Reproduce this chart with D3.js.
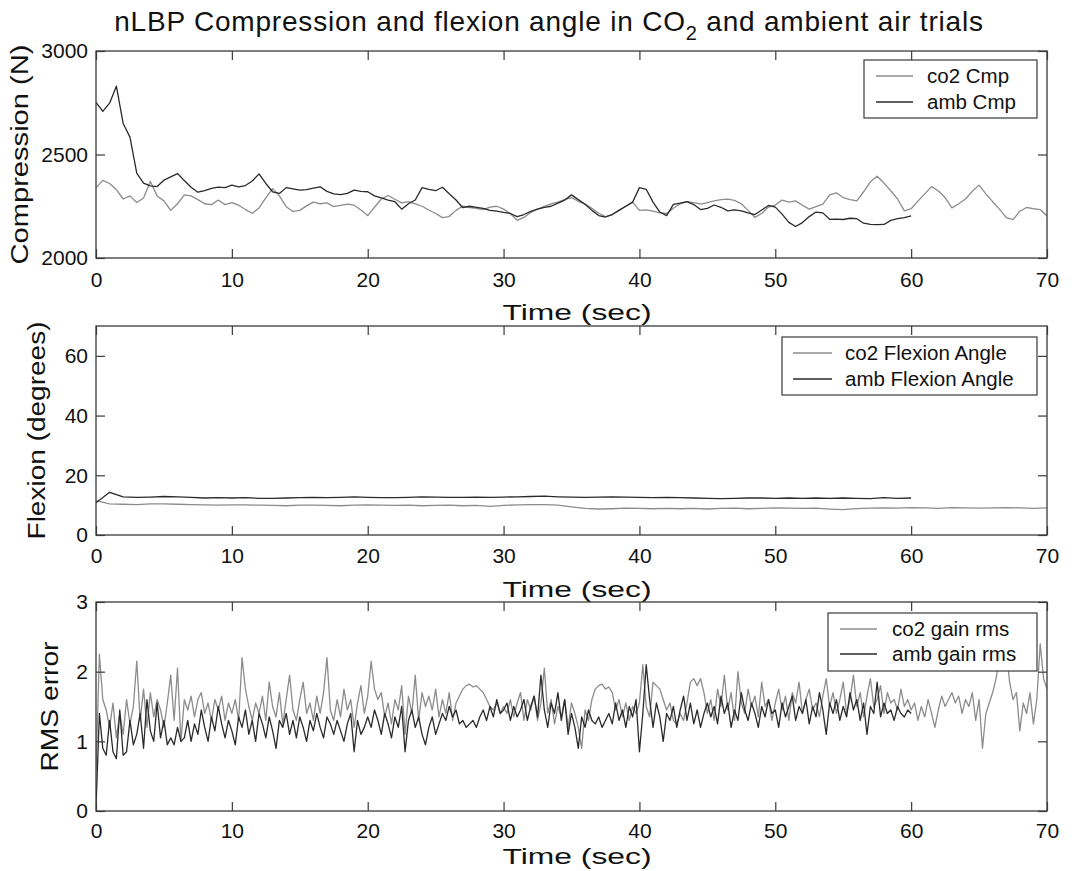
<!DOCTYPE html>
<html><head><meta charset="utf-8">
<script src="https://cdn.jsdelivr.net/npm/d3@7"></script>
<style>
body{margin:0;background:#fff}
text{font-family:"Liberation Sans",Arial,Helvetica,sans-serif;fill:#111}
</style>
</head><body>
<svg id="chart" width="1081" height="871"></svg>
<script>
// ---------------- data ----------------
const titleMain = "nLBP Compression and flexion angle in CO";
const titleSub = "2";
const titleEnd = " and ambient air trials";
const xTicks = [0, 10, 20, 30, 40, 50, 60, 70];
const cmpTicks = [2000, 2500, 3000];
const flexTicks = [0, 20, 40, 60];
const rmsTicks = [0, 1, 2, 3];

const cmpStep = 0.5;   // seconds between samples
const co2Cmp = [
2340,2375,2360,2330,2285,2300,2268,2290,2370,2300,
2276,2230,2262,2305,2300,2282,2262,2258,2280,2258,
2268,2255,2234,2216,2242,2290,2335,2300,2248,2225,
2230,2252,2270,2262,2266,2248,2254,2260,2255,2232,
2205,2245,2285,2302,2284,2266,2272,2262,2250,2232,
2215,2195,2200,2230,2251,2244,2240,2234,2246,2250,
2236,2214,2182,2196,2220,2236,2250,2262,2270,2282,
2292,2274,2260,2240,2216,2200,2210,2232,2250,2270,
2230,2232,2226,2218,2215,2240,2262,2272,2268,2260,
2268,2276,2282,2284,2278,2262,2230,2196,2215,2246,
2256,2280,2270,2276,2255,2236,2248,2260,2305,2315,
2292,2282,2276,2320,2368,2395,2362,2325,2285,2228,
2238,2275,2310,2345,2325,2292,2242,2262,2285,2322,
2352,2310,2272,2236,2195,2185,2226,2244,2238,2234,
2203];
const ambCmp = [
2752,2708,2748,2830,2650,2584,2410,2362,2348,2345,
2376,2392,2408,2374,2342,2318,2326,2336,2342,2340,
2352,2344,2350,2372,2406,2360,2320,2312,2340,2334,
2328,2330,2338,2344,2322,2310,2306,2312,2328,2322,
2320,2300,2290,2280,2272,2236,2262,2280,2340,2332,
2325,2342,2310,2280,2243,2250,2245,2240,2230,2226,
2220,2215,2200,2210,2225,2236,2245,2250,2265,2280,
2305,2282,2260,2230,2205,2198,2210,2230,2250,2270,
2340,2332,2270,2222,2205,2259,2265,2272,2258,2234,
2240,2256,2245,2228,2232,2228,2218,2210,2232,2254,
2246,2212,2172,2152,2171,2200,2222,2218,2187,2188,
2186,2192,2190,2168,2162,2161,2162,2182,2190,2195,
2203];

const flexStep = 1;
const co2Flex = [
11.5,10.4,10.3,10.2,10.4,10.4,10.3,10.2,10.1,10.0,
10.1,10.1,10.0,9.9,9.8,10.0,10.0,9.9,9.8,10.0,
10.1,10.0,9.9,10.0,9.8,9.9,10.0,9.8,9.9,9.6,
9.9,10.1,10.2,10.2,10.0,9.4,8.9,8.7,8.8,9.0,
8.9,8.8,8.9,8.8,8.9,8.7,8.9,9.0,8.8,8.9,
9.1,9.0,8.9,9.0,8.7,8.5,8.8,9.0,9.1,9.0,
9.2,9.1,8.9,9.2,9.1,9.0,9.1,9.2,9.1,8.9,
9.1];
const ambFlex = [
10.8,14.3,12.8,12.6,12.7,12.9,12.8,12.6,12.4,12.5,
12.4,12.5,12.3,12.3,12.4,12.5,12.6,12.5,12.6,12.8,
12.6,12.5,12.5,12.6,12.8,12.7,12.6,12.6,12.7,12.6,
12.7,12.8,12.9,13.0,12.8,12.7,12.6,12.7,12.8,12.7,
12.6,12.5,12.6,12.5,12.4,12.3,12.2,12.3,12.4,12.4,
12.3,12.4,12.3,12.4,12.3,12.4,12.3,12.2,12.5,12.3,
12.4];

const rmsStep = 0.25;
const co2Rms = [
0.6,2.25,1.6,1.45,1.2,1.55,1.05,1.4,1.1,1.6,1.25,1.5,2.15,1.3,1.75,1.2,1.7,1.35,1.6,1.45,
1.2,1.55,1.95,1.3,2.05,1.0,1.6,1.45,1.65,1.35,1.6,1.7,1.4,1.55,1.3,1.6,1.45,1.65,1.3,1.55,
1.4,1.6,1.3,2.2,1.75,1.5,1.3,1.55,1.4,1.65,1.3,1.85,1.5,1.35,1.7,1.25,1.6,1.95,1.45,1.3,
1.6,1.85,1.4,1.55,1.3,1.65,1.4,1.7,2.2,1.45,1.3,1.6,1.35,1.75,1.45,1.6,1.2,1.55,1.8,1.4,
1.65,2.15,1.75,1.6,1.7,1.35,1.55,1.25,1.6,1.45,1.8,1.1,1.65,1.4,1.95,1.3,1.7,1.5,1.65,1.45,
1.75,1.35,1.6,1.4,1.7,1.3,1.55,1.65,1.75,1.8,1.82,1.78,1.8,1.75,1.7,1.6,1.5,1.45,1.55,1.4,
1.5,1.4,1.6,1.35,1.55,1.7,1.3,1.6,1.45,1.65,1.3,1.55,2.05,1.4,1.6,1.25,1.5,1.35,1.6,1.2,
1.55,1.4,1.2,0.9,1.45,1.3,1.6,1.75,1.8,1.82,1.75,1.78,1.7,1.45,1.6,1.35,1.55,1.3,1.5,1.4,
1.55,2.1,1.5,1.35,1.85,1.8,1.75,1.6,1.45,1.55,1.3,1.25,1.4,1.3,1.55,1.85,1.9,1.8,1.9,1.7,
1.4,1.6,1.3,1.75,1.5,1.95,1.45,1.7,1.3,2.0,1.55,1.4,1.75,1.5,1.65,1.35,1.85,1.5,1.6,1.3,
1.55,1.75,1.45,1.65,1.3,1.7,1.55,1.85,1.4,1.6,1.75,1.45,1.55,1.35,1.65,1.9,1.5,1.7,1.4,1.6,
1.85,1.4,1.6,1.95,1.5,1.7,1.35,1.65,1.9,1.5,1.6,1.8,1.4,1.7,1.55,1.6,1.45,1.75,1.5,1.6,
1.45,1.55,1.3,1.5,1.35,1.6,1.4,1.2,1.45,1.65,1.5,1.6,1.7,1.55,1.65,1.4,1.6,1.5,1.7,1.3,
1.6,0.9,1.4,1.55,1.7,1.9,2.2,2.05,2.3,1.85,1.6,1.7,1.15,1.55,1.4,1.7,1.25,1.6,2.4,1.9,
1.75];
const ambRms = [
0.05,1.4,0.9,0.8,1.3,0.85,0.75,1.45,0.8,0.85,1.3,0.95,1.1,1.4,0.9,1.6,1.15,1.0,1.55,1.05,
1.3,0.95,1.05,0.95,1.2,1.0,1.05,1.3,1.0,1.25,1.1,1.45,1.2,1.0,1.35,1.15,1.5,1.25,1.05,1.3,
1.15,0.95,1.35,1.2,1.45,1.1,1.3,1.0,1.4,1.25,1.05,1.35,1.15,0.9,1.3,1.2,1.4,1.1,1.3,1.05,
1.35,1.2,1.0,1.3,1.15,1.4,1.2,1.05,1.35,1.25,1.1,1.3,1.15,1.0,1.25,1.4,0.85,1.3,1.1,1.2,
1.35,1.2,1.45,1.3,1.1,1.4,1.25,1.05,1.35,1.2,1.5,0.85,1.3,1.45,1.2,1.35,1.1,0.95,1.2,1.35,
1.1,1.25,1.4,1.3,1.5,1.35,1.45,1.25,1.3,1.2,1.25,1.3,1.2,1.35,1.45,1.3,1.5,1.35,1.6,1.4,
1.45,1.55,1.3,1.5,1.35,1.45,1.6,1.3,1.5,1.65,1.35,1.95,1.45,1.2,1.55,1.4,1.7,1.3,1.6,1.1,
1.4,1.2,0.9,1.35,1.2,1.45,1.3,1.25,1.35,1.2,1.3,1.4,1.25,1.55,1.3,1.45,1.2,1.5,1.35,1.6,
0.85,1.4,2.1,1.6,1.2,1.55,1.35,1.0,1.4,1.3,1.5,1.2,1.45,1.65,1.3,1.55,1.25,1.45,1.2,1.4,
1.55,1.35,1.5,1.25,1.65,1.4,1.55,1.2,1.45,1.3,1.7,1.45,1.3,1.55,1.4,1.2,1.5,1.35,1.6,1.4,
1.45,1.2,1.55,1.35,1.5,1.65,1.3,1.5,1.4,1.6,1.25,1.5,1.35,1.7,1.45,1.1,1.55,1.4,1.6,1.3,
1.5,1.35,1.7,1.45,1.6,1.3,1.55,1.1,1.5,1.4,1.85,1.35,1.55,1.4,1.45,1.3,1.5,1.4,1.35,1.45,
1.4];

// ---------------- drawing ----------------
const svg = d3.select("#chart");
svg.append("rect").attr("width",1081).attr("height",871).attr("fill","#fff");

const X0 = 96, X1 = 1047;
const co2Color = "#8c8c8c", ambColor = "#2a2a2a", axisColor = "#3a3a3a";

const panels = [
  {top:51, bottom:258, domain:[2000,3000], ticks:cmpTicks, step:cmpStep,
   series:[{v:co2Cmp,c:co2Color,name:"co2 Cmp"},{v:ambCmp,c:ambColor,name:"amb Cmp"}],
   ylabel:"Compression (N)", ylx:28, yll:220, xlabY:320, pad:14,
   legend:{x:864,y:60,w:173,h:58,lx0:876,lx1:913,tx:927,r0:76,r1:102}},
  {top:326, bottom:535, domain:[0,70], ticks:flexTicks, step:flexStep,
   series:[{v:co2Flex,c:co2Color,name:"co2 Flexion Angle"},{v:ambFlex,c:ambColor,name:"amb Flexion Angle"}],
   ylabel:"Flexion (degrees)", ylx:45, yll:218, xlabY:597, pad:13,
   legend:{x:782,y:337,w:255,h:58,lx0:793,lx1:832,tx:845,r0:353,r1:379}},
  {top:602, bottom:811, domain:[0,3], ticks:rmsTicks, step:rmsStep,
   series:[{v:co2Rms,c:co2Color,name:"co2 gain rms"},{v:ambRms,c:ambColor,name:"amb gain rms"}],
   ylabel:"RMS error", ylx:58, yll:130, xlabY:864, pad:12,
   legend:{x:828,y:613,w:209,h:58,lx0:840,lx1:877,tx:892,r0:629,r1:654}}
];

const x = d3.scaleLinear().domain([0,70]).range([X0,X1]);
const fmt = d => String(d);

panels.forEach((p,i) => {
  const y = d3.scaleLinear().domain(p.domain).range([p.bottom,p.top]);
  const g = svg.append("g");
  const clipId = "clip"+i;
  svg.append("clipPath").attr("id",clipId).append("rect")
    .attr("x",X0).attr("y",p.top).attr("width",X1-X0).attr("height",p.bottom-p.top);

  // data lines
  p.series.forEach(s => {
    const line = d3.line().x((d,k)=>x(k*p.step)).y(d=>y(d));
    g.append("path").datum(s.v).attr("d",line).attr("fill","none")
      .attr("stroke",s.c).attr("stroke-width",1.3).attr("stroke-linejoin","round")
      .attr("clip-path",`url(#${clipId})`);
  });

  // axes
  const fs = 21;
  const bottomAx = g.append("g").attr("transform",`translate(0,${p.bottom})`)
    .call(d3.axisBottom(x).tickValues(xTicks).tickFormat(fmt).tickSizeInner(-9).tickSizeOuter(0).tickPadding(p.pad));
  const topAx = g.append("g").attr("transform",`translate(0,${p.top})`)
    .call(d3.axisTop(x).tickValues(xTicks).tickSizeInner(-9).tickSizeOuter(0).tickFormat(""));
  const leftAx = g.append("g").attr("transform",`translate(${X0},0)`)
    .call(d3.axisLeft(y).tickValues(p.ticks).tickFormat(fmt).tickSizeInner(-9).tickSizeOuter(0).tickPadding(8));
  const rightAx = g.append("g").attr("transform",`translate(${X1},0)`)
    .call(d3.axisRight(y).tickValues(p.ticks).tickSizeInner(-9).tickSizeOuter(0).tickFormat(""));
  [bottomAx,topAx,leftAx,rightAx].forEach(a=>{
    a.select(".domain").remove();
    a.selectAll(".tick line").attr("stroke",axisColor).attr("stroke-width",1.2);
    a.selectAll(".tick text").attr("font-size",fs).attr("fill","#111")
      .attr("font-family","'Liberation Sans',Arial,sans-serif");
  });
  g.append("rect").attr("x",X0).attr("y",p.top).attr("width",X1-X0).attr("height",p.bottom-p.top)
    .attr("fill","none").attr("stroke",axisColor).attr("stroke-width",1.3);

  // legend
  const L = p.legend;
  g.append("rect").attr("x",L.x).attr("y",L.y).attr("width",L.w).attr("height",L.h)
    .attr("fill","#fff").attr("stroke",axisColor).attr("stroke-width",1.2);
  [L.r0,L.r1].forEach((ry,k)=>{
    g.append("line").attr("x1",L.lx0).attr("x2",L.lx1).attr("y1",ry).attr("y2",ry)
      .attr("stroke",p.series[k].c).attr("stroke-width",1.3);
    g.append("text").attr("x",L.tx).attr("y",ry).attr("dy","0.36em")
      .attr("font-size",20.5).text(p.series[k].name);
  });

  // labels
  g.append("text").attr("transform",`translate(${p.ylx},${(p.top+p.bottom)/2}) rotate(-90)`)
    .attr("text-anchor","middle").attr("font-size",23)
    .attr("textLength",p.yll).attr("lengthAdjust","spacingAndGlyphs").text(p.ylabel);
  g.append("text").attr("x",577).attr("y",p.xlabY).attr("text-anchor","middle")
    .attr("font-size",22).attr("textLength",149).attr("lengthAdjust","spacingAndGlyphs")
    .text("Time (sec)");
});

// title
const t = svg.append("text").attr("x",549).attr("y",31).attr("text-anchor","middle")
  .attr("font-size",28).attr("letter-spacing",0.8);
t.append("tspan").text(titleMain);
t.append("tspan").attr("dy",9).attr("font-size",20).text(titleSub);
t.append("tspan").attr("dy",-9).text(titleEnd);
</script>
</body></html>
